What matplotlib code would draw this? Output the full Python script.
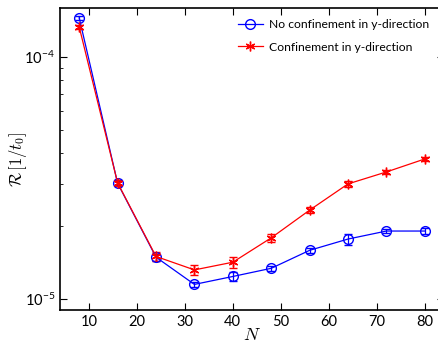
import matplotlib
matplotlib.use("Agg")
import matplotlib.pyplot as plt
from matplotlib.ticker import LogLocator, NullFormatter
from matplotlib.lines import Line2D

plt.rcParams['font.family'] = ['Lato', 'DejaVu Sans']
plt.rcParams['mathtext.fontset'] = 'cm'

N = [8, 16, 24, 32, 40, 48, 56, 64, 72, 80]
no_conf = [1.45e-4, 3.01e-5, 1.49e-5, 1.15e-5, 1.24e-5, 1.34e-5, 1.59e-5, 1.77e-5, 1.91e-5, 1.91e-5]
no_conf_err = [2.5e-6, 6e-7, 5e-7, 2.5e-7, 5e-7, 3e-7, 3.5e-7, 9e-7, 4e-7, 5e-7]
conf = [1.33e-4, 3.02e-5, 1.50e-5, 1.32e-5, 1.42e-5, 1.79e-5, 2.33e-5, 2.99e-5, 3.35e-5, 3.79e-5]
conf_err = [2.5e-6, 8e-7, 7e-7, 6e-7, 7e-7, 7e-7, 7e-7, 8e-7, 7e-7, 8e-7]
labels = ["No confinement in y-direction", "Confinement in y-direction"]
xticks = [10, 20, 30, 40, 50, 60, 70, 80]

W, H = 439, 342
fig = plt.figure(figsize=(W / 100, H / 100), dpi=100)
left, right, top, bottom = 60, 444, 8, 310
ax = fig.add_axes([left / W, 1 - bottom / H, (right - left) / W, (bottom - top) / H])

blue_style = dict(color='#0000ff', marker='o', mfc='none', mec='#0000ff', ms=7, lw=0.9)
red_style = dict(color='#ff0000', marker=(6, 2, 0), ms=7, mew=1.0, lw=0.9)

ax.errorbar(N, no_conf, yerr=no_conf_err, capsize=3, elinewidth=0.9, **blue_style)
ax.errorbar(N, conf, yerr=conf_err, capsize=3, elinewidth=0.9, **red_style)

ax.set_yscale('log')
ax.set_xlim(4, 84)
ax.set_ylim(10 ** -5.045, 10 ** -3.798)
ax.set_xticks(xticks)
ax.yaxis.set_major_locator(LogLocator(base=10, numticks=10))
ax.yaxis.set_minor_locator(LogLocator(base=10, subs=range(2, 10), numticks=10))
ax.yaxis.set_minor_formatter(NullFormatter())

ax.tick_params(which='both', direction='in', top=True, right=True, labelsize=10.5)
ax.tick_params(which='major', length=5)
ax.tick_params(which='minor', length=2.5)
for s in ax.spines.values():
    s.set_linewidth(1.2)

ax.set_xlabel('$N$', fontsize=13, labelpad=-1)
ax.set_ylabel(r'$\mathcal{R}\,[1/t_0]$', fontsize=12)
ax.yaxis.set_label_coords((29 - left) / (right - left), 0.5)

handles = [Line2D([], [], **blue_style), Line2D([], [], **red_style)]
leg = ax.legend(handles, labels, loc='upper left',
                bbox_to_anchor=((228 - left) / (right - left), 0.995),
                frameon=False, fontsize=8.7, handlelength=2.1, borderaxespad=0.4,
                labelspacing=0.95, handletextpad=0.5)

fig.savefig('out.png', dpi=100)
